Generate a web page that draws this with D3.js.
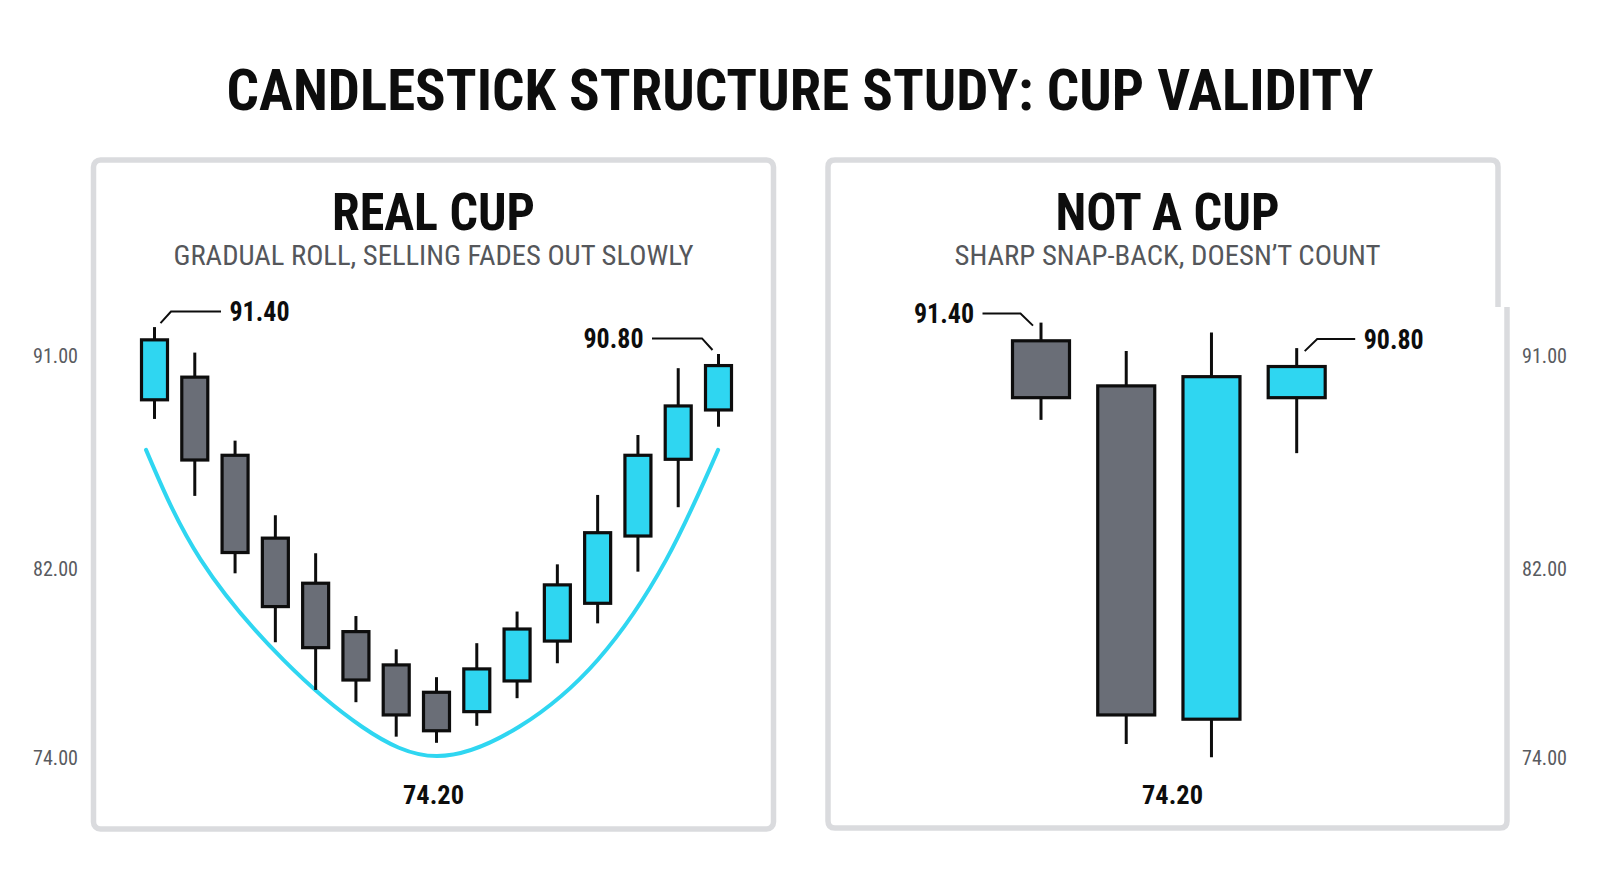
<!DOCTYPE html>
<html lang="en">
<head>
<meta charset="UTF-8" />
<title>Candlestick Structure Study: Cup Validity</title>
<script src="https://cdn.jsdelivr.net/npm/d3@7"></script>
<style>
  html, body { margin: 0; padding: 0; background: #ffffff; }
  svg { display: block; }
  text { font-family: "Roboto Condensed", Roboto, "Noto Sans", sans-serif; }
</style>
</head>
<body>
<svg id="chart" width="1600" height="893"></svg>
<script>
// ---- data ----
var tickValues = [74, 82, 91];
var tickLabels = ["74.00", "82.00", "91.00"];

// real cup, 15 candles
var realOpen  = [89.14, 90.10, 86.79, 83.28, 81.37, 79.32, 77.91, 76.75, 75.93, 77.23, 78.92, 80.52, 83.37, 86.62, 88.71];
var realHigh  = [92.22, 91.14, 87.41, 84.25, 82.64, 79.98, 78.57, 77.39, 78.83, 80.17, 82.17, 85.11, 87.65, 90.48, 91.08];
var realLow   = [88.33, 85.07, 81.79, 78.87, 76.85, 76.33, 74.87, 74.61, 75.33, 76.50, 77.98, 79.67, 81.86, 84.59, 88.00];
var realClose = [91.68, 86.59, 82.67, 80.38, 78.64, 77.27, 75.79, 75.12, 77.74, 79.43, 81.30, 83.51, 86.79, 88.88, 90.59];

// cyan guide curve under the real cup (candle slot, price)
var cupSlot  = [-0.21, 1.15, 3.2, 5.15, 7.01, 9.05, 11.0, 12.7, 13.99];
var cupPrice = [87.02, 82.36, 78.12, 75.29, 74.05, 75.29, 78.12, 82.36, 87.02];

// not a cup, 4 candles
var fakeOpen  = [91.64, 89.73, 75.61, 89.23];
var fakeHigh  = [92.41, 91.21, 91.99, 91.33];
var fakeLow   = [88.29, 74.56, 74.00, 86.88];
var fakeClose = [89.23, 75.79, 90.12, 90.55];

var mainTitle = "CANDLESTICK STRUCTURE STUDY: CUP VALIDITY";
var panelTitles = ["REAL CUP", "NOT A CUP"];
var panelSubs = ["GRADUAL ROLL, SELLING FADES OUT SLOWLY", "SHARP SNAP-BACK, DOESN\u2019T COUNT"];
var highLabels = ["91.40", "90.80"];
var lowLabel = "74.20";

// ---- drawing ----
var svg = d3.select("#chart");
var CYAN = "#2fd6f1", GRAY = "#6a6e77", INK = "#0d0d0d";

svg.append("rect").attr("width", 1600).attr("height", 893).attr("fill", "#ffffff");

var y = d3.scaleLinear().domain([74, 91]).range([757.2, 355.9]);
var xReal = d3.scaleLinear().domain([0, 14]).range([154.5, 718.5]);
var xFake = d3.scalePoint().domain(d3.range(4)).range([1041, 1296.7]);

function fitText(sel, w) {
  sel.attr("textLength", w).attr("lengthAdjust", "spacingAndGlyphs");
  return sel;
}

// title
fitText(svg.append("text")
  .attr("x", 800).attr("y", 110)
  .attr("text-anchor", "middle")
  .attr("font-size", 58).attr("font-weight", 700).attr("fill", INK)
  .text(mainTitle), 1147);

// panel frames
svg.append("rect")
  .attr("x", 93.5).attr("y", 160).attr("width", 680).attr("height", 669)
  .attr("rx", 7).attr("fill", "none")
  .attr("stroke", "#dadbde").attr("stroke-width", 5.5);

// right frame has a small step on its right edge
svg.append("path")
  .attr("d", "M1498,307 L1498,167 Q1498,160 1491,160 L835,160 Q828,160 828,167 " +
             "L828,821 Q828,828 835,828 L1500,828 Q1507,828 1507,821 L1507,307")
  .attr("fill", "none")
  .attr("stroke", "#dadbde").attr("stroke-width", 5.5);

// panel headings
var centers = [433.5, 1167.5];
var titleW = [203, 224];
var subW = [520, 426];
centers.forEach(function(cx, k) {
  fitText(svg.append("text")
    .attr("x", cx).attr("y", 230)
    .attr("text-anchor", "middle")
    .attr("font-size", 52).attr("font-weight", 700).attr("fill", INK)
    .text(panelTitles[k]), titleW[k]);
  fitText(svg.append("text")
    .attr("x", cx).attr("y", 265)
    .attr("text-anchor", "middle")
    .attr("font-size", 27).attr("font-weight", 400).attr("fill", "#55575b")
    .text(panelSubs[k]), subW[k]);
});

// price labels on both sides
[{x: 78, anchor: "end"}, {x: 1522, anchor: "start"}].forEach(function(side) {
  svg.append("g").selectAll("text")
    .data(tickValues)
    .enter().append("text")
      .attr("x", side.x)
      .attr("y", function(d) { return y(d); })
      .attr("dy", "0.35em")
      .attr("text-anchor", side.anchor)
      .attr("font-size", 21).attr("font-weight", 400).attr("fill", "#595b5f")
      .attr("textLength", 45).attr("lengthAdjust", "spacingAndGlyphs")
      .text(function(d, i) { return tickLabels[i]; });
});

// cup curve
var cupPts = cupSlot.map(function(s, i) { return [s, cupPrice[i]]; });
svg.append("path")
  .datum(cupPts)
  .attr("fill", "none")
  .attr("stroke", CYAN).attr("stroke-width", 4)
  .attr("stroke-linecap", "round")
  .attr("d", d3.line()
    .x(function(d) { return xReal(d[0]); })
    .y(function(d) { return y(d[1]); })
    .curve(d3.curveNatural));

function drawCandles(opens, highs, lows, closes, x, bodyW) {
  var rows = opens.map(function(o, i) {
    return {i: i, o: o, h: highs[i], l: lows[i], c: closes[i]};
  });
  var g = svg.append("g");
  var c = g.selectAll("g").data(rows).enter().append("g");
  c.append("line")
    .attr("x1", function(d) { return x(d.i); })
    .attr("x2", function(d) { return x(d.i); })
    .attr("y1", function(d) { return y(d.h); })
    .attr("y2", function(d) { return y(d.l); })
    .attr("stroke", INK).attr("stroke-width", 3);
  c.append("rect")
    .attr("x", function(d) { return x(d.i) - bodyW / 2; })
    .attr("width", bodyW)
    .attr("y", function(d) { return y(Math.max(d.o, d.c)); })
    .attr("height", function(d) { return y(Math.min(d.o, d.c)) - y(Math.max(d.o, d.c)); })
    .attr("fill", function(d) { return d.c >= d.o ? CYAN : GRAY; })
    .attr("stroke", INK).attr("stroke-width", 3.2);
}

drawCandles(realOpen, realHigh, realLow, realClose, xReal, 26);
drawCandles(fakeOpen, fakeHigh, fakeLow, fakeClose, xFake, 57);

// leader notes on the highs
function note(px, py, dir, text, o) {
  var p = [
    [px + dir * o.a, py + o.b],
    [px + dir * o.c, py + o.d],
    [px + dir * (o.c + o.len), py + o.d]
  ];
  svg.append("path")
    .attr("d", d3.line()(p))
    .attr("fill", "none").attr("stroke", INK).attr("stroke-width", 2);
  svg.append("text")
    .attr("x", px + dir * (o.c + o.len + 8.5))
    .attr("y", py + o.d)
    .attr("dy", "0.35em")
    .attr("text-anchor", dir > 0 ? "start" : "end")
    .attr("font-size", 27).attr("font-weight", 700).attr("fill", INK)
    .attr("textLength", 60).attr("lengthAdjust", "spacingAndGlyphs")
    .text(text);
}
var leftLead = {a: 6, b: -4, c: 16.5, d: -15.6, len: 50};
var rightLead = {a: 8, b: 3, c: 20.5, d: -9, len: 38};
note(xReal(0), y(realHigh[0]), 1, highLabels[0], leftLead);
note(xReal(14), y(realHigh[14]), -1, highLabels[1], leftLead);
note(xFake(0), y(fakeHigh[0]), -1, highLabels[0], rightLead);
note(xFake(3), y(fakeHigh[3]), 1, highLabels[1], rightLead);

// cup low labels
centers.forEach(function(cx, k) {
  svg.append("text")
    .attr("x", k === 0 ? cx : cx + 5).attr("y", y(74) + 47)
    .attr("text-anchor", "middle")
    .attr("font-size", 26).attr("font-weight", 700).attr("fill", INK)
    .attr("textLength", 61).attr("lengthAdjust", "spacingAndGlyphs")
    .text(lowLabel);
});
</script>
</body>
</html>
